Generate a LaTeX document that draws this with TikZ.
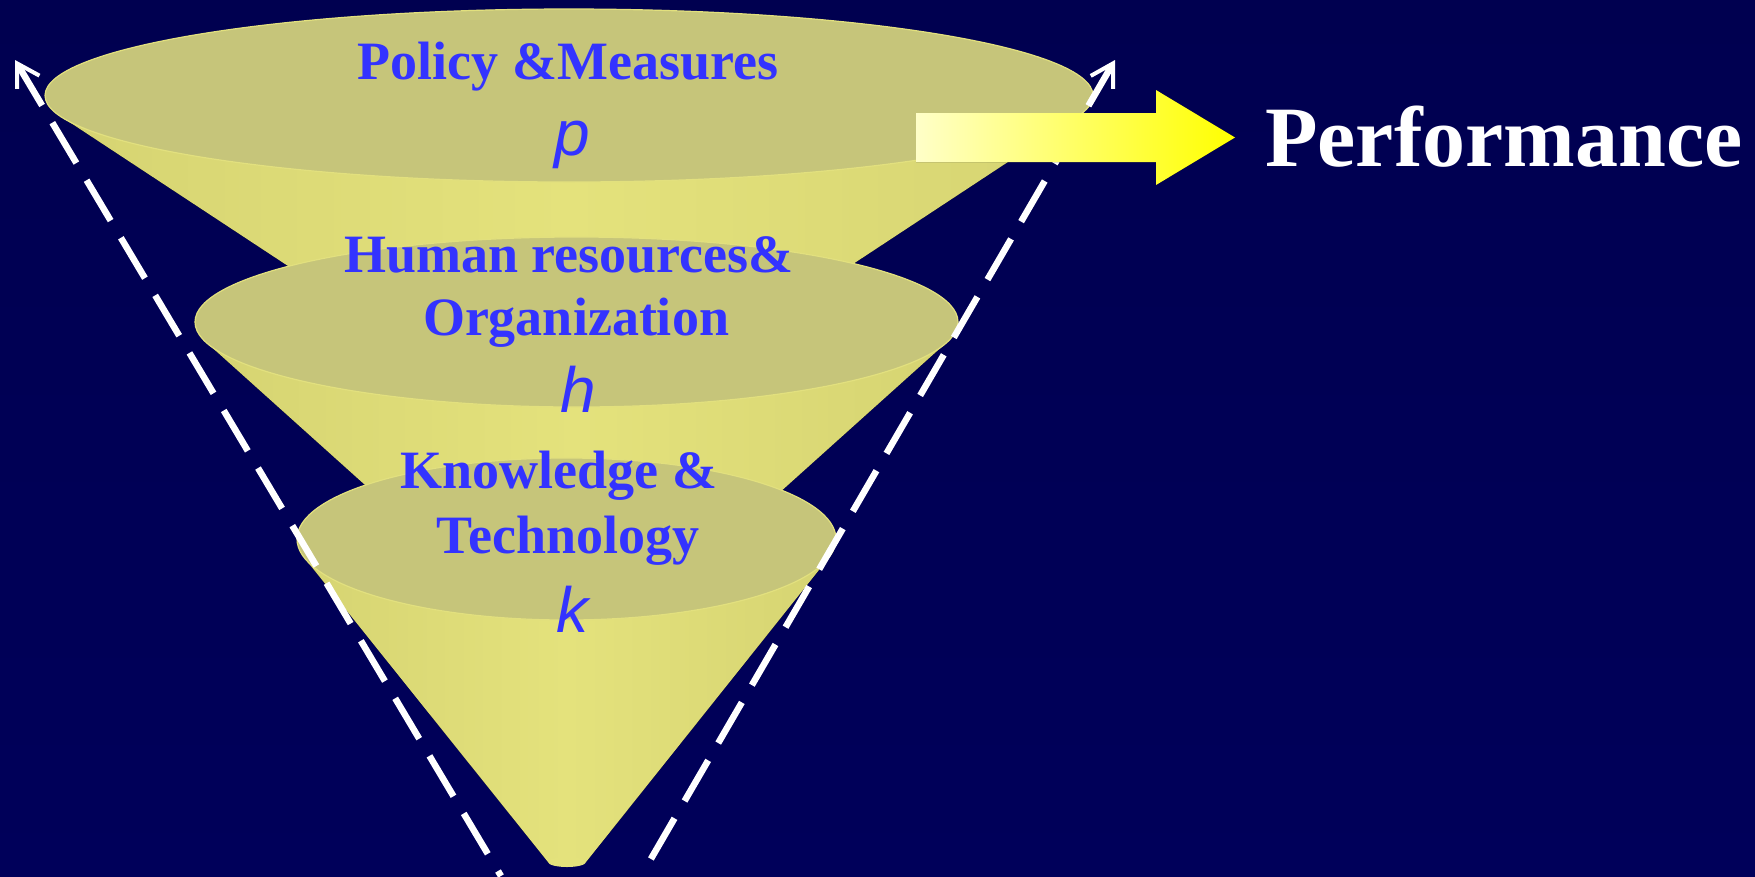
\documentclass[tikz,border=0pt]{standalone}
\usepackage{fontspec}
\setmainfont{Liberation Serif}
\newfontfamily\lsans{Liberation Sans}
\usetikzlibrary{arrows.meta}
\definecolor{bgtop}{RGB}{0,0,80}
\definecolor{bgmid}{RGB}{0,0,50}
\definecolor{bgbot}{RGB}{0,0,90}
\definecolor{conebody}{RGB}{228,226,124}
\definecolor{coneedge}{RGB}{214,212,114}
\definecolor{disctop}{RGB}{198,197,122}
\definecolor{discrim}{RGB}{226,224,126}
\definecolor{txtblue}{RGB}{51,51,255}
\definecolor{arA}{RGB}{255,255,200}
\definecolor{arB}{RGB}{255,255,150}
\definecolor{arC}{RGB}{255,255,0}
\tikzset{
  conebody/.style={left color=coneedge, right color=coneedge, middle color=conebody},
  discface/.style={fill=disctop, draw=discrim, line width=1.2pt},
  guide/.style={draw=white, line width=6.5pt, dash pattern=on 47pt off 20pt,
    arrows={{Straight Barb[length=22pt,width=26pt,line width'=4pt]}-}},
  lbl/.style={text=txtblue, inner sep=0pt, anchor=base,
    font=\fontsize{54}{63}\selectfont\bfseries},
  var/.style={text=txtblue, inner sep=0pt, anchor=base,
    font=\lsans\fontsize{64}{64}\selectfont\itshape},
}
\begin{document}
\begin{tikzpicture}[x=1pt,y=-1pt]
\useasboundingbox (0,0) rectangle (1755,876);
\fill[top color=bgtop, middle color=bgmid, bottom color=bgbot] (0,0) rectangle (1755,876);

% top funnel
\fill[conebody] (61,116.5) -- (569,451) -- (1077,116.5) -- cycle;
\path[discface] (569,95.5) ellipse [x radius=524, y radius=86.5];

% middle funnel
\fill[conebody] (206.5,342.5) -- (576.5,675) -- (946.5,342.5) -- cycle;
\path[discface] (576.5,322) ellipse [x radius=381.5, y radius=85];

% bottom funnel
\fill[conebody] (304.5,558) -- (548,862) -- (586,862) -- (828.5,558) -- cycle;
\fill[fill=conebody] (567,862) ellipse [x radius=19, y radius=5];
\path[discface] (566.5,539) ellipse [x radius=269.5, y radius=81];

% dashed guides
\coordinate (ltip) at (15,60);
\coordinate (lbot) at (501,876);
\coordinate (rtip) at (1115,60);
\coordinate (rbot) at (641,876);
\draw[guide] (ltip) -- (lbot);
\draw[guide] (rtip) -- (rbot);

% block arrow
\fill[left color=arA, middle color=arB, right color=arC]
  (916,113) -- (1156,113) -- (1156,90) -- (1235,137.5) -- (1156,185)
  -- (1156,162) -- (916,162) -- cycle;

% labels
\node[lbl] (pm) at (568,79) {Policy \&Measures};
\node[var] (pv) at (572,155) {p};
\node[lbl] (hr1) at (569,272) {Human resources\&};
\node[lbl] (hr2) at (576,335) {Organization};
\node[var] (hv) at (578,412) {h};
\node[lbl] (kt1) at (559,488) {Knowledge \&};
\node[lbl] (kt2) at (568,553) {Technology};
\node[var] (kv) at (572,632) {k};
\node[text=white, inner sep=0pt, anchor=base west,
  font=\fontsize{86}{86}\selectfont\bfseries] (perf) at (1265,166) {Performance};
\end{tikzpicture}
\end{document}
